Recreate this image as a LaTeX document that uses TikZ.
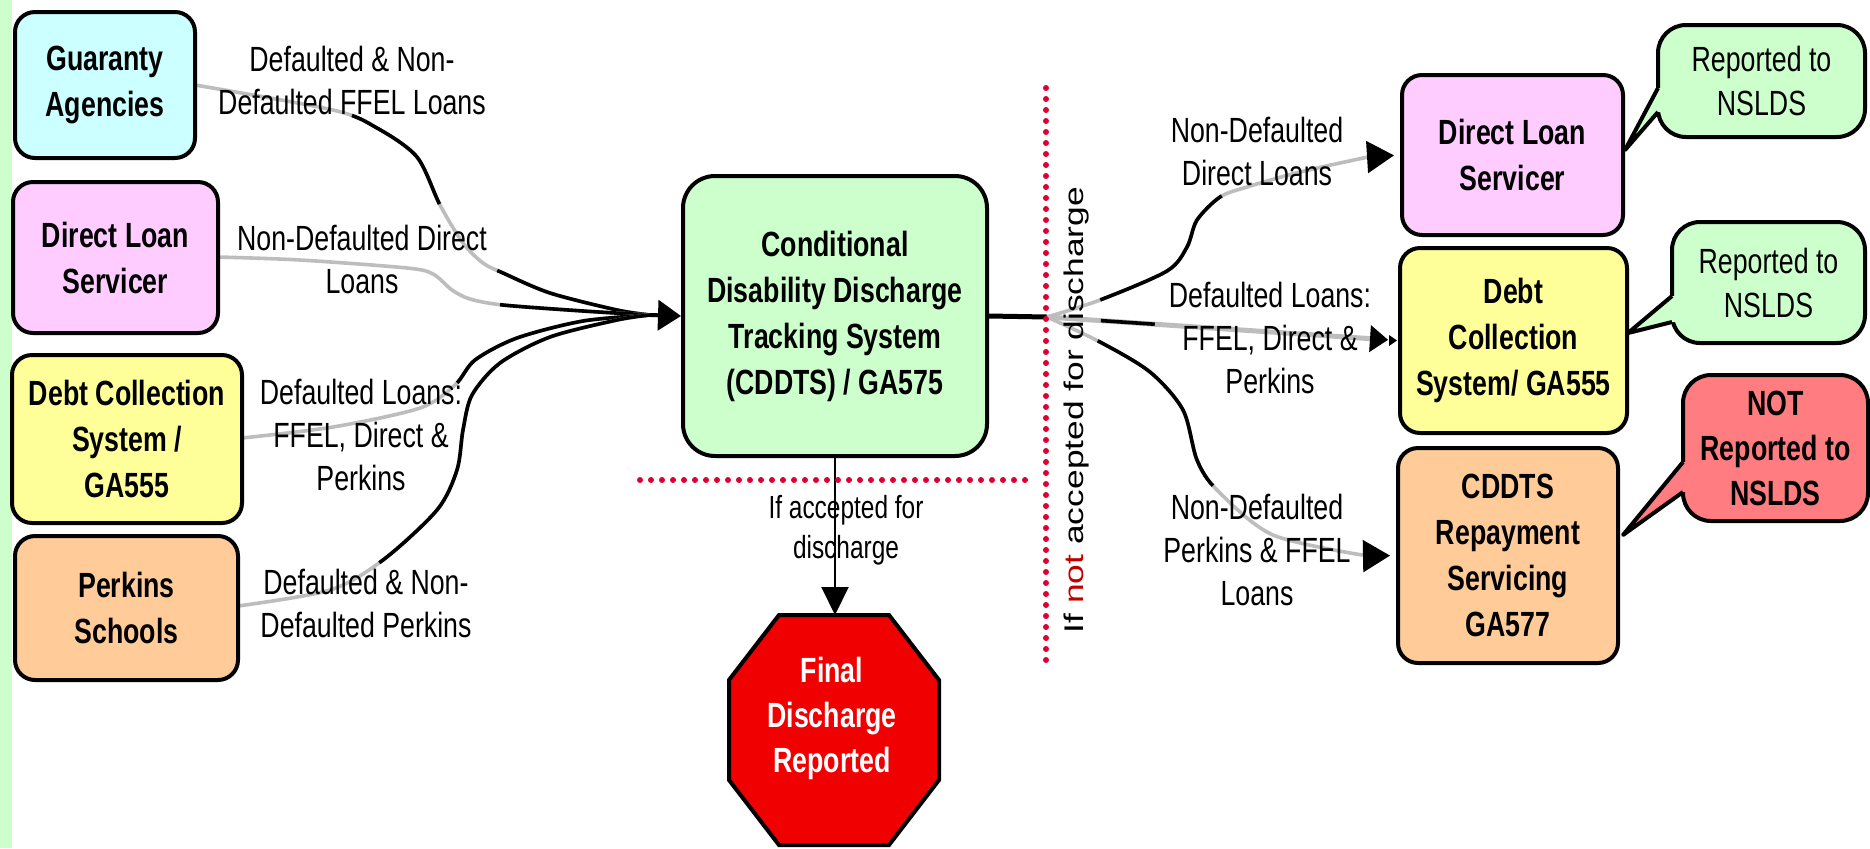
\documentclass[tikz,border=0pt]{standalone}
\usepackage{fontspec}
\setmainfont{Liberation Sans}[FakeStretch=0.764]
\newfontfamily\rotfont{Liberation Sans}[FakeStretch=1.31]
\usetikzlibrary{arrows.meta}
\definecolor{stripgreen}{HTML}{CCFFCC}
\definecolor{gacyan}{HTML}{CCFFFF}
\definecolor{dlpink}{HTML}{FFCCFF}
\definecolor{dcyellow}{HTML}{FFFF99}
\definecolor{pspeach}{HTML}{FFCC99}
\definecolor{cdgreen}{HTML}{CCFFCC}
\definecolor{notred}{HTML}{FF7C80}
\definecolor{octred}{HTML}{F00000}
\definecolor{dotred}{HTML}{DD0033}
\definecolor{linegray}{HTML}{BDBDBD}
\definecolor{notword}{HTML}{C00000}
\begin{document}
\begin{tikzpicture}[x=0.5pt,y=-0.5pt,
  box/.style={draw=black, line width=2pt, rounded corners=10pt, align=center, inner sep=0pt, font=\bfseries\fontsize{17.5}{23}\selectfont},
  lbl/.style={align=center, inner sep=0pt, font=\fontsize{17.5}{21.5}\selectfont},
  callout/.style={draw=black, line width=2pt, rounded corners=14pt, align=center, inner sep=0pt, font=\fontsize{17.5}{22}\selectfont},
  gr/.style={draw=linegray, line width=1.8pt, line cap=butt},
  bk/.style={draw=black, line width=1.8pt, line cap=butt},
  dots/.style={draw=dotred, line width=3pt, line cap=round, dash pattern=on 0pt off 5.5pt},
  ptr/.style={draw=black, line width=2pt, line join=round}
]
\useasboundingbox (0,0) rectangle (1870,848);
\fill[white] (0,0) rectangle (1870,848);
\fill[stripgreen] (0,0) rectangle (12,848);

% ---------- named points ----------
\coordinate (lin) at (650,315);
\coordinate (jn) at (1047,317);
\coordinate (r1e) at (1368,157);
\coordinate (r3e) at (1368,556);
\coordinate (octtop) at (835,615);

% ---------- left connectors ----------
\draw[gr, postaction={bk, dash pattern=on 0pt off 80pt on 65pt off 45pt on 400pt}]
  plot[smooth] coordinates {(195,85) (333,110) (377,128) (417,157) (440,205) (463,243) (483,263) (503,273) (550,293) (617,310) (lin)};
\draw[gr, postaction={bk, dash pattern=on 0pt off 146pt on 400pt}]
  plot[smooth] coordinates {(218,257) (300,260) (407,268) (433,274) (452,290) (470,299) (503,305) (583,311) (lin)};
\draw[gr, postaction={bk, dash pattern=on 0pt off 113pt on 400pt}]
  plot[smooth] coordinates {(242,438) (333,427) (420,408) (455,385) (475,360) (517,338) (583,321) (lin)};
\draw[gr, postaction={bk, dash pattern=on 0pt off 75pt on 400pt}]
  plot[smooth] coordinates {(238,606) (330,590) (383,560) (437,510) (457,470) (463,430) (472,395) (500,363) (550,337) (617,320) (lin)};

% ---------- boxes ----------
\node[box, fill=gacyan, minimum width=90pt, minimum height=73pt] (ga) at (105,85) {Guaranty\\Agencies};
\node[box, fill=dlpink, minimum width=102.5pt, minimum height=75.5pt] (dll) at (115.5,257.5) {Direct Loan\\Servicer};
\node[box, fill=dcyellow, minimum width=115pt, minimum height=84pt] (dcl) at (127,439) {Debt Collection\\System /\\GA555};
\node[box, fill=pspeach, minimum width=111.5pt, minimum height=72pt] (ps) at (126.5,608) {Perkins\\Schools};
\node[box, fill=cdgreen, rounded corners=16pt, minimum width=152pt, minimum height=140pt] (cd) at (835,316) {Conditional\\Disability Discharge\\Tracking System\\(CDDTS) / GA575};
\node[box, fill=dlpink, minimum width=110.5pt, minimum height=80pt] (dlr) at (1512.5,155) {Direct Loan\\Servicer};
\node[box, fill=dcyellow, minimum width=113.5pt, minimum height=92.5pt] (dcr) at (1513.5,340.5) {Debt\\Collection\\System/ GA555};
\node[box, fill=pspeach, minimum width=110pt, minimum height=107.5pt] (crs) at (1508,555.5) {CDDTS\\Repayment\\Servicing\\GA577};

% arrow into central box
\draw[black, line width=2pt, -{Triangle[length=11.5pt,width=15pt]}] (lin) -- (cd.west);

% ---------- right connectors ----------
\draw[black, line width=2.5pt] (cd.east) -- (jn);
\draw[gr, postaction={bk, dash pattern=on 0pt off 28pt on 84pt off 400pt}]
  plot[smooth] coordinates {(jn) (1100,300) (1167,271) (1187,247) (1197,220) (1220,197) (1247,187) (1300,172) (r1e)};
\draw[black, line width=1pt, shorten >=3pt, -{Triangle[length=13.5pt,width=16pt]}] (r1e) -- (dlr.west);
\draw[gr, line width=2.5pt, shorten >=5pt, -{Triangle[length=9pt,width=13pt]}, postaction={bk, dash pattern=on 0pt off 27pt on 27pt off 400pt}] (jn) -- (dcr.west);
\fill[black] (1389,335) -- (1397,340.5) -- (1389,346) -- cycle;
\draw[gr, postaction={bk, dash pattern=on 0pt off 28pt on 97pt off 400pt}]
  plot[smooth] coordinates {(jn) (1100,342) (1150,372) (1183,410) (1197,460) (1217,490) (1273,535) (r3e)};
\draw[black, line width=1pt, shorten >=3pt, -{Triangle[length=13.5pt,width=16pt]}] (r3e) -- (crs.west);

% ---------- down arrow and octagon ----------
\draw[black, line width=1pt, -{Triangle[length=14pt,width=13.5pt]}] (cd.south) -- (octtop);
\filldraw[fill=octred, draw=black, line width=2pt] (779,615) -- (889,615) -- (939,680) -- (939,780) -- (889,845) -- (779,845) -- (729,780) -- (729,680) -- cycle;
\node[align=center, inner sep=0pt, text=white, font=\bfseries\fontsize{17.5}{22.5}\selectfont] (fin) at (832,718) {Final\\Discharge\\Reported};

% ---------- callouts ----------
\node[callout, fill=cdgreen, minimum width=103.5pt, minimum height=56pt] (c1) at (1761.5,81) {Reported to\\NSLDS};
\fill[cdgreen] (1658,88) -- (1625,150) -- (1658,112) -- (1666,112) -- (1666,88) -- cycle;
\draw[ptr] (1658,88) -- (1625,150) -- (1658,112);

\node[callout, fill=cdgreen, minimum width=96.5pt, minimum height=60.5pt] (c2) at (1768.5,282.5) {Reported to\\NSLDS};
\fill[cdgreen] (1672,296) -- (1628,333) -- (1672,322) -- (1680,322) -- (1680,296) -- cycle;
\draw[ptr] (1672,296) -- (1628,333) -- (1672,322);

\node[callout, fill=notred, font=\bfseries\fontsize{17.5}{22.5}\selectfont, minimum width=92.5pt, minimum height=73pt] (c3) at (1775.5,448) {NOT\\Reported to\\NSLDS};
\fill[notred] (1683,462) -- (1623,535) -- (1683,492) -- (1691,492) -- (1691,462) -- cycle;
\draw[ptr] (1683,462) -- (1623,535) -- (1683,492);

% ---------- dotted separators ----------
\draw[dots] (640,480) -- (1028,480);
\draw[dots] (1046,88) -- (1046,667);

% ---------- labels ----------
\node[lbl] (l1) at (352,80) {Defaulted \& Non-\\Defaulted FFEL Loans};
\node[lbl] (l2) at (362,259) {Non-Defaulted Direct\\Loans};
\node[lbl] (l3) at (361,435) {Defaulted Loans:\\FFEL, Direct \&\\Perkins};
\node[lbl] (l4) at (366,603) {Defaulted \& Non-\\Defaulted Perkins};
\node[lbl] (rl1) at (1257,151) {Non-Defaulted\\Direct Loans};
\node[lbl] (rl2) at (1270,338) {Defaulted Loans:\\FFEL, Direct \&\\Perkins};
\node[lbl] (rl3) at (1257,550) {Non-Defaulted\\Perkins \& FFEL\\Loans};
\node[align=center, inner sep=0pt, font=\fontsize{16}{20}\selectfont] (acc) at (846,530) {If accepted for\\discharge};
\node[rotate=90, inner sep=0pt, font=\rotfont\fontsize{13.5}{16}\selectfont] (notacc) at (1077,410) {If \textcolor{notword}{not} accepted for discharge};
\end{tikzpicture}
\end{document}
